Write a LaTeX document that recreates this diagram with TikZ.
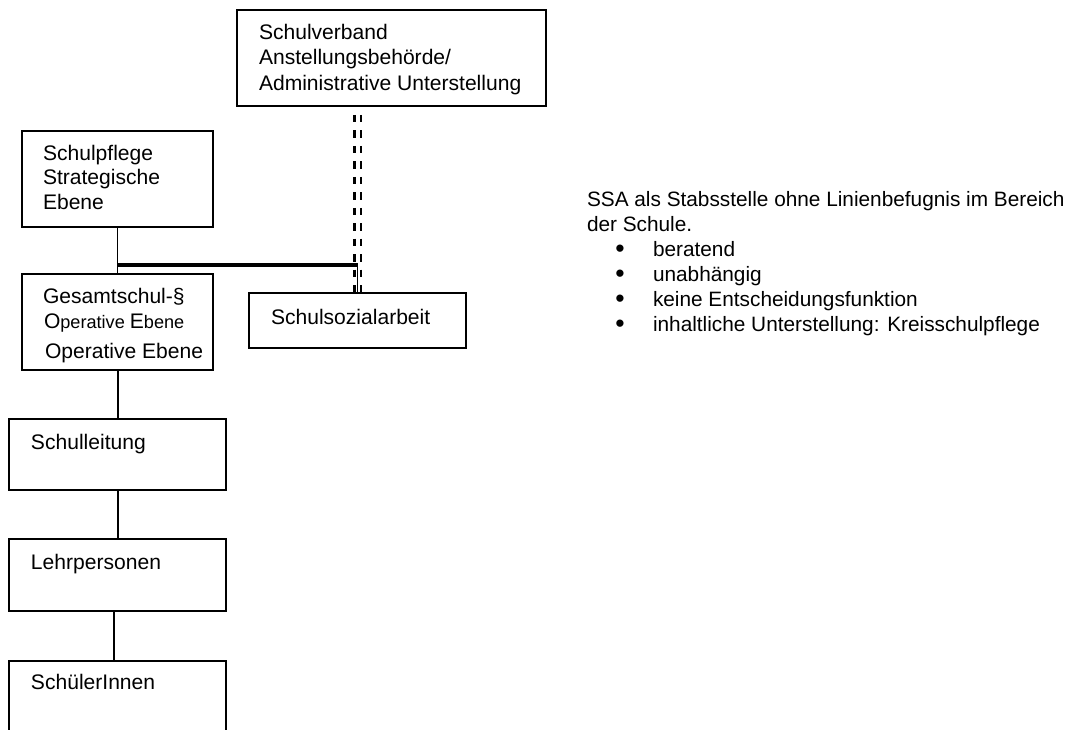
\documentclass[tikz,border=0pt]{standalone}
\usepackage{fontspec}
\setmainfont{Liberation Sans}
\begin{document}
\begin{tikzpicture}[x=0.75pt,y=-0.75pt,
  box/.style={draw=black,line width=1.5pt,rectangle,inner sep=0pt,outer sep=0pt},
  txt/.style={anchor=base west,inner sep=0pt,outer sep=0pt,font=\fontsize{15.8}{19}\selectfont},
  rtxt/.style={anchor=base west,inner sep=0pt,outer sep=0pt,font=\fontsize{15.6}{19}\selectfont},
  thinline/.style={draw=black,line width=0.9pt},
  midline/.style={draw=black,line width=1.5pt},
  thickline/.style={draw=black,line width=2.4pt},
  dline/.style={draw=black,line width=2pt,dash pattern=on 5.6pt off 6pt},
  bul/.style={anchor=base,inner sep=0pt,outer sep=0pt,text height=8pt,text depth=0pt,font=\fontsize{20}{19}\selectfont}]
\useasboundingbox (0,0) rectangle (1071,730);
\clip (0,0) rectangle (1071,730);
\fill[white] (0,0) rectangle (1071,730);

% boxes
\node[box,minimum width=231.75pt,minimum height=72pt] (verband) at (391.5,58) {};
\node[box,minimum width=143.25pt,minimum height=72pt] (pflege) at (117.5,179) {};
\node[box,minimum width=143.25pt,minimum height=72pt] (gesamt) at (117.5,322) {};
\node[box,minimum width=162.75pt,minimum height=41.25pt] (ssa) at (357.5,320.5) {};
\node[box,minimum width=162.75pt,minimum height=53.25pt] (leitung) at (117.5,454.5) {};
\node[box,minimum width=162.75pt,minimum height=54pt] (lehr) at (117.5,575) {};
\node[box,minimum width=162.75pt,minimum height=57pt] (schueler) at (117.5,699) {};

% box texts
\node[txt] (v1) at (259,39.3) {Schulverband};
\node[txt] (v2) at (259,65) {Anstellungsbehörde/};
\node[txt] (v3) at (259,90.5) {Administrative Unterstellung};
\node[txt] (p1) at (43,160.7) {Schulpflege};
\node[txt] (p2) at (43,185) {Strategische};
\node[txt] (p3) at (43,209.5) {Ebene};
\node[txt] (g1) at (43,304) {Gesamtschul-§};
\node[txt] (g2) at (44,328.5) {O{\fontsize{13.6}{16}\selectfont perative }E{\fontsize{13.6}{16}\selectfont bene}};
\node[txt] (g3) at (45,359) {Operative Ebene};
\node[txt] (s1) at (271,325) {Schulsozialarbeit};
\node[txt] (l1) at (31,450) {Schulleitung};
\node[txt] (l2) at (31,570) {Lehrpersonen};
\node[txt] (l3) at (31,689) {SchülerInnen};

% connectors
\coordinate (J) at (pflege.south |- 0,265);
\coordinate (K) at (ssa.north |- 0,265);
\coordinate (dtop) at (verband.south -| ssa.north);
\draw[thinline] (pflege.south) -- (gesamt.north);
\draw[thickline] (J) -- (K);
\draw[thinline] (K) -- (ssa.north);
\draw[dline] ([xshift=-2.5pt,yshift=-6.75pt]dtop) -- ([xshift=-2.5pt]ssa.north);
\draw[dline] ([xshift=2.5pt,yshift=-6.75pt]dtop) -- ([xshift=2.5pt]ssa.north);
\draw[midline] (gesamt.south) -- (leitung.north);
\draw[midline] (leitung.south) -- (lehr.north);
\draw[midline] ([xshift=-2.6pt]lehr.south) -- ([xshift=-2.6pt]schueler.north);

% right text
\node[rtxt] (r1) at (587,206.7) {SSA als Stabsstelle ohne Linienbefugnis im Bereich};
\node[rtxt] (r2) at (587,231.7) {der Schule.};
\node[bul] (b1) at (620,258) {•};
\node[bul] (b2) at (620,283) {•};
\node[bul] (b3) at (620,308) {•};
\node[bul] (b4) at (620,333) {•};
\node[rtxt] (i1) at (653,257) {beratend};
\node[rtxt] (i2) at (653,282) {unabhängig};
\node[rtxt] (i3) at (653,307) {keine Entscheidungsfunktion};
\node[rtxt] (i4) at (653,332) {inhaltliche Unterstellung: Kreisschulpflege};
\end{tikzpicture}
\end{document}
